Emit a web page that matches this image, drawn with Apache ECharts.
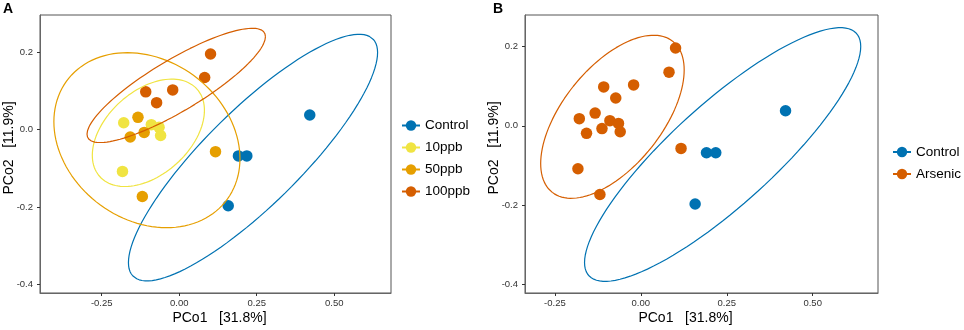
<!DOCTYPE html>
<html>
<head>
<meta charset="utf-8">
<script src="https://cdn.jsdelivr.net/npm/echarts@6/dist/echarts.min.js"></script>
<style>
  html, body { margin: 0; padding: 0; background: #fff; }
  #pcoa { width: 964px; height: 330px; }
</style>
</head>
<body>
<div id="pcoa"></div>
<script>
// PCo1 / PCo2 scores
const controlPts = [[0.421, 0.038], [0.191, -0.068], [0.218, -0.068], [0.158, -0.197]];
const ppb10Pts = [[-0.179, 0.018], [-0.090, 0.013], [-0.065, 0.006], [-0.060, -0.015], [-0.183, -0.108]];
const ppb50Pts = [[-0.133, 0.032], [-0.158, -0.019], [-0.113, -0.007], [0.117, -0.057], [-0.119, -0.173]];
const ppb100Pts = [[0.101, 0.196], [0.082, 0.135], [-0.021, 0.103], [-0.108, 0.098], [-0.073, 0.070]];
// panel B pools all doses into one group
const arsenicPts = ppb10Pts.concat(ppb50Pts, ppb100Pts);

const groupsA = ['Control', '10ppb', '50ppb', '100ppb'];
const groupsB = ['Control', 'Arsenic'];
const xTicks = [-0.25, 0, 0.25, 0.5];
const yTicks = [-0.4, -0.2, 0, 0.2];
const xTitle = 'PCo1   [31.8%]';
const yTitle = 'PCo2   [11.9%]';

const colors = {
  'Control': '#0072B2',
  '10ppb': '#F0E442',
  '50ppb': '#E69F00',
  '100ppb': '#D55E00',
  'Arsenic': '#D55E00'
};

// robust t covariance (like MASS::cov.trob), as used by stat_ellipse(type = "t")
function covTrob(pts) {
  const n = pts.length, p = 2, nu = 5;
  let loc = [0, 1].map(k => pts.reduce((s, q) => s + q[k], 0) / n);
  let w = pts.map(() => 1);
  let X = [];
  for (let iter = 0; iter < 25; iter++) {
    const w0 = w.slice();
    X = pts.map(q => [q[0] - loc[0], q[1] - loc[1]]);
    const sw = w.reduce((s, v) => s + v, 0);
    let a = 0, b = 0, c = 0;
    X.forEach((d, i) => {
      a += w[i] * d[0] * d[0] / sw;
      b += w[i] * d[0] * d[1] / sw;
      c += w[i] * d[1] * d[1] / sw;
    });
    const det = a * c - b * b;
    const Q = X.map(d => (c * d[0] * d[0] - 2 * b * d[0] * d[1] + a * d[1] * d[1]) / det);
    w = Q.map(q => (nu + p) / (nu + q));
    const sw2 = w.reduce((s, v) => s + v, 0);
    loc = [0, 1].map(k => pts.reduce((s, q, i) => s + w[i] * q[k], 0) / sw2);
    if (w.every((v, i) => Math.abs(v - w0[i]) < 0.01)) break;
  }
  let a = 0, b = 0, c = 0;
  X.forEach((d, i) => {
    a += w[i] * d[0] * d[0];
    b += w[i] * d[0] * d[1];
    c += w[i] * d[1] * d[1];
  });
  return { center: loc, cov: [a / n, b / n, c / n] };
}

function ellipsePath(pts, level) {
  const { center, cov } = covTrob(pts);
  const dfd = pts.length - 1;
  // qf(level, 2, dfd) in closed form
  const fq = dfd / 2 * (Math.pow(1 - level, -2 / dfd) - 1);
  const radius = Math.sqrt(2 * fq);
  const r11 = Math.sqrt(cov[0]);
  const r12 = cov[1] / r11;
  const r22 = Math.sqrt(cov[2] - r12 * r12);
  const out = [];
  const seg = 120;
  for (let i = 0; i <= seg; i++) {
    const t = i * 2 * Math.PI / seg;
    const cs = Math.cos(t), sn = Math.sin(t);
    out.push([center[0] + radius * cs * r11, center[1] + radius * (cs * r12 + sn * r22)]);
  }
  return out;
}

function ellipseSeries(name, pts, idx) {
  return {
    name: name,
    type: 'line',
    xAxisIndex: idx,
    yAxisIndex: idx,
    data: ellipsePath(pts, 0.95),
    symbol: 'circle',
    showSymbol: false,
    silent: true,
    z: 3,
    color: colors[name],
    itemStyle: { color: colors[name] },
    lineStyle: { color: colors[name], width: 1.2 }
  };
}

function pointSeries(name, pts, idx) {
  return {
    name: name,
    type: 'scatter',
    xAxisIndex: idx,
    yAxisIndex: idx,
    data: pts,
    symbolSize: 11.5,
    z: 2,
    itemStyle: { color: colors[name], opacity: 1 }
  };
}

function xAxisFor(idx, min, max, shift) {
  return {
    type: 'value',
    gridIndex: idx,
    min: min,
    max: max,
    name: xTitle,
    nameLocation: 'middle',
    nameGap: 18,
    nameMoveOverlap: false,
    nameTextStyle: {
      fontFamily: 'Liberation Sans', fontSize: 14, color: '#000',
      padding: shift > 0 ? [0, 0, 0, 2 * shift] : [0, -2 * shift, 0, 0]
    },
    axisLine: { show: true, onZero: false, lineStyle: { color: '#666', width: 1 } },
    axisTick: { show: true, length: 3, customValues: xTicks, lineStyle: { color: '#333' } },
    axisLabel: {
      customValues: xTicks, margin: 5,
      fontFamily: 'Liberation Sans', fontSize: 9.5, color: '#333',
      formatter: v => v.toFixed(2)
    },
    splitLine: { show: false }
  };
}

function yAxisFor(idx, min, max) {
  return {
    type: 'value',
    gridIndex: idx,
    min: min,
    max: max,
    name: yTitle,
    nameLocation: 'middle',
    nameGap: 24,
    nameMoveOverlap: false,
    nameTextStyle: {
      fontFamily: 'Liberation Sans', fontSize: 14, color: '#000',
      padding: [0, 0, 0, 12]
    },
    axisLine: { show: true, onZero: false, lineStyle: { color: '#666', width: 1 } },
    axisTick: { show: true, length: 3, customValues: yTicks, lineStyle: { color: '#333' } },
    axisLabel: {
      customValues: yTicks, margin: 7,
      fontFamily: 'Liberation Sans', fontSize: 9.5, color: '#333',
      formatter: v => v.toFixed(1)
    },
    splitLine: { show: false }
  };
}

const legendText = { fontFamily: 'Liberation Sans', fontSize: 13.5, color: '#000' };

// ellipses go first so the legend takes the line + point key from them
const series = [
  ellipseSeries('Control', controlPts, 0),
  ellipseSeries('10ppb', ppb10Pts, 0),
  ellipseSeries('50ppb', ppb50Pts, 0),
  ellipseSeries('100ppb', ppb100Pts, 0),
  pointSeries('Control', controlPts, 0),
  pointSeries('10ppb', ppb10Pts, 0),
  pointSeries('50ppb', ppb50Pts, 0),
  pointSeries('100ppb', ppb100Pts, 0),
  ellipseSeries('Control', controlPts, 1),
  ellipseSeries('Arsenic', arsenicPts, 1),
  pointSeries('Control', controlPts, 1),
  pointSeries('Arsenic', arsenicPts, 1)
];

const chart = echarts.init(document.getElementById('pcoa'), null, { renderer: 'canvas' });
chart.setOption({
  animation: false,
  backgroundColor: '#fff',
  textStyle: { fontFamily: 'Liberation Sans' },
  title: [
    { text: 'A', left: 3, top: 2, padding: 0, textStyle: { fontSize: 14, fontWeight: 'bold', color: '#000' } },
    { text: 'B', left: 493, top: 2, padding: 0, textStyle: { fontSize: 14, fontWeight: 'bold', color: '#000' } }
  ],
  grid: [
    { left: 40, top: 15, width: 351, height: 280, show: true, borderColor: '#555', borderWidth: 1, backgroundColor: 'transparent' },
    { left: 525, top: 15, width: 353, height: 280, show: true, borderColor: '#555', borderWidth: 1, backgroundColor: 'transparent' }
  ],
  xAxis: [xAxisFor(0, -0.449, 0.683, 4), xAxisFor(1, -0.337, 0.690, -16)],
  yAxis: [yAxisFor(0, -0.423, 0.297), yAxisFor(1, -0.421, 0.279)],
  legend: [
    {
      data: groupsA, orient: 'vertical', left: 401, top: 118.5, padding: 0,
      itemWidth: 18, itemHeight: 13, itemGap: 8, textStyle: legendText, selectedMode: false
    },
    {
      data: groupsB, orient: 'vertical', left: 892, top: 145, padding: 0,
      itemWidth: 18, itemHeight: 13, itemGap: 8, textStyle: legendText, selectedMode: false
    }
  ],
  series: series
});
</script>
</body>
</html>
